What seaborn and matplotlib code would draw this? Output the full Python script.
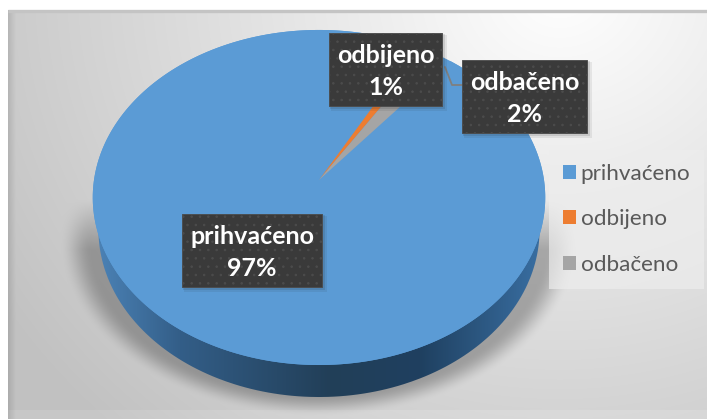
import numpy as np
import matplotlib
matplotlib.use("Agg")
import matplotlib.pyplot as plt
import matplotlib.transforms as mtr
from matplotlib.path import Path
from matplotlib.patches import Rectangle, Patch
import seaborn as sns

categories = ["prihvaćeno", "odbijeno", "odbačeno"]
values = [97, 1, 2]
colors = sns.color_palette(["#5B9BD5", "#ED7D31", "#A5A5A5"])
W, H = 707, 419

sns.set_theme(style="white")
plt.rcParams["font.family"] = ["Lato", "DejaVu Sans"]

CX, CY, SX, SY, K = 319.0, 180.0, 225.0, 165.7, 0.1044


class Persp(mtr.Transform):
    input_dims = output_dims = 2
    is_separable = False
    has_inverse = False

    def __init__(self, dy=0.0, sx=1.0):
        super().__init__()
        self.dy, self.sx = dy, sx

    def transform_non_affine(self, v):
        v = np.asarray(v, float)
        w = 1 + K * v[:, 1]
        return np.column_stack([CX + self.sx * SX * v[:, 0] / w,
                                CY + self.dy - SY * v[:, 1] / w])

    def transform_path_non_affine(self, path):
        big = Path(path.vertices * 2000, path.codes)
        poly = big.to_polygons(closed_only=False)
        v = np.vstack(poly) / 2000
        return Path(self.transform_non_affine(v))


fig = plt.figure(figsize=(W / 100, H / 100), dpi=100, facecolor="white")
ax = fig.add_axes([0, 0, 1, 1])

# panel background
xx, yy = np.meshgrid(np.arange(W) + .5, np.arange(H) + .5)
d = np.hypot((xx - 560) / 1.0, (yy + 10) * 1.1) / 600
bg = 255 - 56 * np.clip(d, 0, 1.1) ** 1.0
bg = bg - 22 * np.clip((16 - xx) / 8, 0, 1)

# soft shadow under the pie
ex = (xx - CX) / 232
ey = (yy - 240) / 158
r = np.hypot(ex, ey)
sh = np.clip((1.12 - r) / 0.14, 0, 1)
sh = sh * sh * (3 - 2 * sh)
bg = bg * (1 - 0.27 * sh * np.clip((yy - 200) / 50, 0, 1))
bg = np.where(yy > 410, bg + 6, bg)
rgb = np.clip(np.dstack([bg] * 3) / 255, 0, 1)
ax.imshow(rgb, extent=(0, W, H, 0), zorder=0, interpolation="bilinear", aspect="auto")
ax.add_patch(Rectangle((0, 0), W, 10, fc="white", ec="none", zorder=0.5))
ax.add_patch(Rectangle((0, 0), 8, H, fc="white", ec="none", zorder=0.5))
ax.plot([8, W], [11.5, 11.5], color="#c4c4c4", lw=2.4, zorder=0.6, solid_capstyle="butt")

# side of the disc (one whole-disc pie moved down, filled with a gradient)
side, _ = ax.pie([sum(values)], radius=1, colors=["#2f5f8a"], startangle=90,
                 wedgeprops={"linewidth": 0})
side[0].set_transform(Persp(dy=32, sx=0.975) + ax.transData)
side[0].set_zorder(1)
stops_x = np.array([93, 180, 330, 420, 545])
stops_c = np.array([[0x4D, 0x84, 0xB8], [0x33, 0x5E, 0x88], [0x22, 0x3F, 0x58],
                    [0x1F, 0x40, 0x60], [0x3A, 0x70, 0xA4]]) / 255
gx = np.arange(W) + .5
grad = np.stack([np.interp(gx, stops_x, stops_c[:, i]) for i in range(3)], axis=-1)[None, :, :]
im = ax.imshow(grad, extent=(0, W, H, 0), zorder=1.1, aspect="auto")
im.set_clip_path(side[0].get_path(), side[0].get_transform())
side[0].set_visible(False)

# blue rim under the two thin slices, whose outer ends stay hidden behind the label
rim, _ = ax.pie([sum(values)], radius=1, colors=[colors[0]], startangle=90,
                wedgeprops={"linewidth": 0})
rim[0].set_transform(Persp() + ax.transData)
rim[0].set_zorder(1.5)

# top face
wedges, _ = ax.pie(values, colors=colors, startangle=50.8, counterclock=False, radius=1,
                   wedgeprops={"linewidth": 0})
for w_ in wedges:
    w_.set_transform(Persp() + ax.transData)
    w_.set_zorder(2)
for w_ in wedges[1:]:
    w_.set_radius(0.9)

ax.set_aspect("auto")
ax.set_xlim(0, W)
ax.set_ylim(H, 0)
ax.axis("off")

# leader line
ax.plot([462, 452, 445], [85, 85, 67], color="#7f7f7f", lw=1.3, zorder=3)

# data labels
plt.rcParams["hatch.linewidth"] = 0.6
boxes = [(182, 214, 140, 73), (329, 33, 113, 73), (462, 60, 125, 73)]
for (x, y, w_, h_), name, val in zip(boxes, categories, values):
    for i, a in zip((6, 4, 2), (0.08, 0.12, 0.16)):
        ax.add_patch(Rectangle((x + i / 2 - 1, y + i / 2 - 1), w_ + i / 2, h_ + i / 2,
                               fc="#202020", ec="none", alpha=a, zorder=3.5))
    ax.add_patch(Rectangle((x, y), w_, h_, fc="#3A3A3A", ec="#4C4C4C", lw=0.6,
                           hatch="..", zorder=4))
    ax.text(x + w_ / 2, y + h_ / 2 + 2, f"{name}\n{val}%", color="white", fontsize=18,
            fontweight="bold", ha="center", va="center", linespacing=1.5, zorder=5)

# legend
handles = [Patch(fc=c, ec="none") for c in colors]
leg = ax.legend(handles, categories, loc="upper left",
                bbox_to_anchor=(549 / W, 1 - 150 / H), bbox_transform=fig.transFigure,
                frameon=True, facecolor="#EDEDED", edgecolor="none", framealpha=0.7,
                fontsize=16.2, labelcolor="#595959", handlelength=0.58, handleheight=0.58,
                handletextpad=0.2, labelspacing=1.13, borderpad=0.62, borderaxespad=0,
                fancybox=False)
leg.set_zorder(6)

fig.savefig("out.png", dpi=100)
